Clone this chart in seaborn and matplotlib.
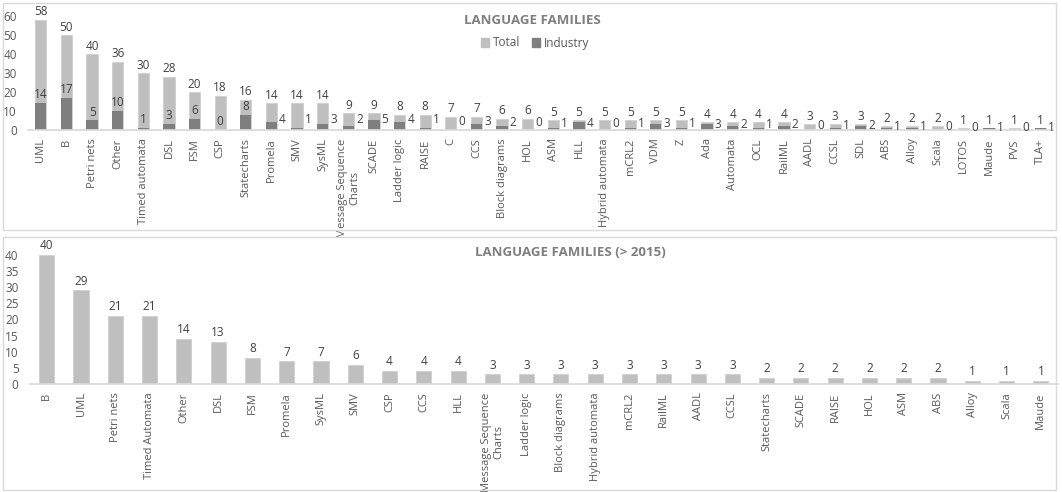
import numpy as np
import pandas as pd
import matplotlib
matplotlib.use("Agg")
import matplotlib.pyplot as plt
import seaborn as sns
from matplotlib.patches import Rectangle, Patch

# all years: total and industry counts per language family
families = ["UML", "B", "Petri nets", "Other", "Timed automata", "DSL", "FSM", "CSP",
            "Statecharts", "Promela", "SMV", "SysML", "Message Sequence\nCharts", "SCADE",
            "Ladder logic", "RAISE", "C", "CCS", "Block diagrams", "HOL", "ASM", "HLL",
            "Hybrid automata", "mCRL2", "VDM", "Z", "Ada", "Automata", "OCL", "RailML",
            "AADL", "CCSL", "SDL", "ABS", "Alloy", "Scala", "LOTOS", "Maude", "PVS", "TLA+"]
total = [58, 50, 40, 36, 30, 28, 20, 18, 16, 14, 14, 14, 9, 9, 8, 8, 7, 7, 6, 6,
         5, 5, 5, 5, 5, 5, 4, 4, 4, 4, 3, 3, 3, 2, 2, 2, 1, 1, 1, 1]
industry = [14, 17, 5, 10, 1, 3, 6, 0, 8, 4, 1, 3, 2, 5, 4, 1, 0, 3, 2, 0,
            1, 4, 0, 1, 3, 1, 3, 2, 1, 2, 0, 1, 2, 1, 1, 0, 0, 1, 0, 1]

# after 2015
families_2015 = ["B", "UML", "Petri nets", "Timed Automata", "Other", "DSL", "FSM", "Promela",
                 "SysML", "SMV", "CSP", "CCS", "HLL", "Message Sequence\nCharts", "Ladder logic",
                 "Block diagrams", "Hybrid automata", "mCRL2", "RailML", "AADL", "CCSL",
                 "Statecharts", "SCADE", "RAISE", "HOL", "ASM", "ABS", "Alloy", "Scala", "Maude"]
count_2015 = [40, 29, 21, 21, 14, 13, 8, 7, 7, 6, 4, 4, 4, 3, 3, 3, 3, 3, 3, 3, 3,
              2, 2, 2, 2, 2, 2, 1, 1, 1]

LIGHT = "#bfbfbf"
DARK = "#7f7f7f"
TXT = "#595959"
LAB = "#404040"
FS = 8.5   # numbers
XFS = 8    # category labels

sns.set_theme(style="white")
plt.rcParams["font.family"] = ["Open Sans", "DejaVu Sans"]

W, H = 1062, 492
fig = plt.figure(figsize=(W / 100, H / 100), dpi=100)

def px(x0, y0, x1, y1):
    # pixel box (top-left origin) -> figure axes rect
    return [x0 / W, 1 - y1 / H, (x1 - x0) / W, (y1 - y0) / H]

# panel frames
for (x0, y0, x1, y1) in [(3, 3, 1056, 230), (3, 237, 1056, 490)]:
    fig.patches.append(Rectangle((x0 / W, 1 - y1 / H), (x1 - x0) / W, (y1 - y0) / H,
                                 transform=fig.transFigure, fill=False,
                                 edgecolor="#d9d9d9", linewidth=1))

def style(ax, yticks):
    for s in ["top", "right", "left"]:
        ax.spines[s].set_visible(False)
    ax.spines["bottom"].set_color("#d9d9d9")
    ax.set_xlabel("")
    ax.set_ylabel("")
    ax.set_yticks(yticks)
    ax.tick_params(axis="y", length=0, labelsize=FS, labelcolor=TXT, pad=8)
    ax.tick_params(axis="x", length=0, labelsize=XFS, labelcolor=TXT, rotation=90, pad=6)
    for t in ax.get_xticklabels():
        t.set_ha("center")
        t.set_multialignment("center")

# ---- top chart
df = pd.DataFrame({"family": families, "total": total, "industry": industry})
ax1 = fig.add_axes(px(28, 16, 1053, 130))
sns.barplot(data=df, x="family", y="total", color=LIGHT, width=0.44, ax=ax1,
            saturation=1, edgecolor="#d0d0d0", linewidth=0.6)
sns.barplot(data=df, x="family", y="industry", color=DARK, width=0.44, ax=ax1,
            saturation=1, linewidth=0)
ax1.set_ylim(0, 60)
ax1.set_xlim(-0.5, len(families) - 0.5)
style(ax1, range(0, 61, 10))
ax1.bar_label(ax1.containers[0], labels=[str(v) for v in total], padding=1,
              fontsize=FS, color=LAB)
for i, (t, v) in enumerate(zip(total, industry)):
    if i < 9:
        ax1.text(i, v + 1, str(v), ha="center", va="bottom", fontsize=FS, color=LAB)
    else:
        ax1.text(i + 0.3, min(t * 0.6, 5) + 0.5, str(v), ha="left", va="center",
                 fontsize=FS, color=LAB)
fig.text(532 / W, 1 - 21 / H, "LANGUAGE FAMILIES", ha="center", va="center",
         fontsize=9.5, fontweight="bold", color=DARK)
fig.legend(handles=[Patch(color=LIGHT, label="Total"), Patch(color=DARK, label="Industry")],
           loc="center", bbox_to_anchor=(535 / W, 1 - 43 / H), ncol=2, frameon=False,
           fontsize=FS, labelcolor=TXT, handlelength=0.7, handleheight=0.7,
           handletextpad=0.3, columnspacing=1.0)

# ---- bottom chart
df2 = pd.DataFrame({"family": families_2015, "count": count_2015})
ax2 = fig.add_axes(px(29.6, 255, 1058, 384))
sns.barplot(data=df2, x="family", y="count", color=LIGHT, width=0.44, ax=ax2,
            saturation=1, edgecolor="#d0d0d0", linewidth=0.6)
ax2.set_ylim(0, 40)
ax2.set_xlim(-0.5, len(families_2015) - 0.5)
style(ax2, range(0, 41, 5))
ax2.bar_label(ax2.containers[0], labels=[str(v) for v in count_2015], padding=2,
              fontsize=FS, color=LAB)
fig.text(570 / W, 1 - 253 / H, "LANGUAGE FAMILIES (> 2015)", ha="center", va="center",
         fontsize=9.5, fontweight="bold", color=DARK)

fig.savefig("out.png", dpi=100)
